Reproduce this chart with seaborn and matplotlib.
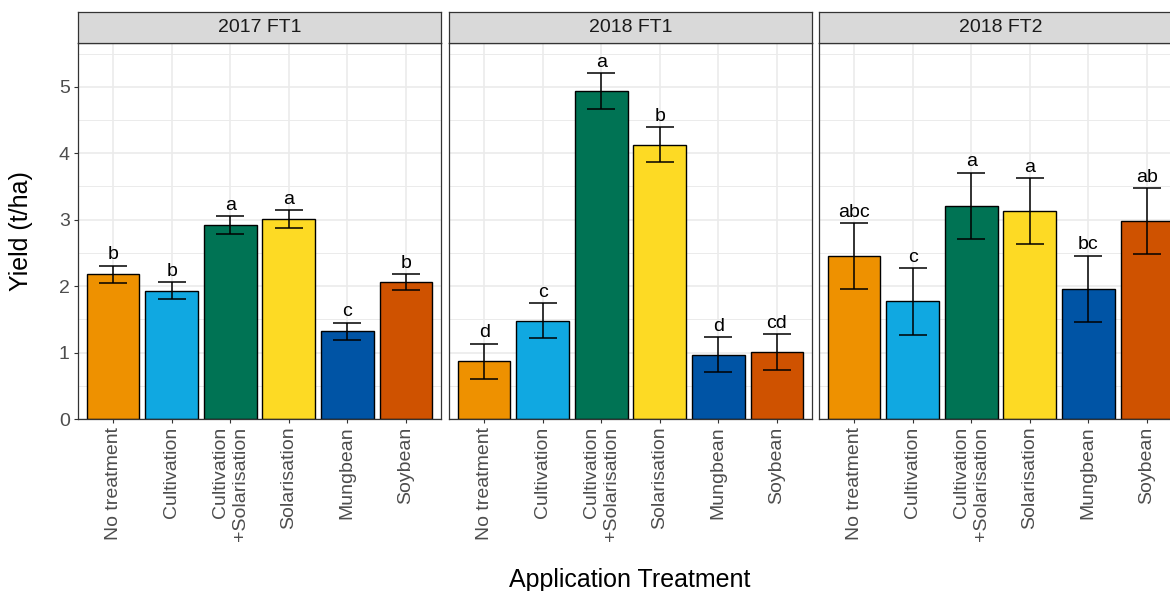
import matplotlib
matplotlib.use("Agg")
import matplotlib.pyplot as plt
from matplotlib.ticker import MultipleLocator
import numpy as np
import pandas as pd
import seaborn as sns

# ---- data -------------------------------------------------------------
treatments = ["No treatment", "Cultivation", "Cultivation\n+Solarisation",
              "Solarisation", "Mungbean", "Soybean"]
trials = ["2017 FT1", "2018 FT1", "2018 FT2"]

yield_2017_ft1 = [2.18, 1.93, 2.92, 3.01, 1.32, 2.06]
se_2017_ft1 = [0.13, 0.13, 0.13, 0.13, 0.13, 0.125]
letters_2017_ft1 = ["b", "b", "a", "a", "c", "b"]

yield_2018_ft1 = [0.87, 1.48, 4.94, 4.13, 0.97, 1.01]
se_2018_ft1 = [0.265, 0.265, 0.27, 0.265, 0.26, 0.265]
letters_2018_ft1 = ["d", "c", "a", "b", "d", "cd"]

yield_2018_ft2 = [2.45, 1.77, 3.21, 3.13, 1.96, 2.98]
se_2018_ft2 = [0.50, 0.50, 0.50, 0.50, 0.50, 0.50]
letters_2018_ft2 = ["abc", "c", "a", "a", "bc", "ab"]

bar_colors = ["#EE9100", "#10A8E1", "#007354", "#FDDA24", "#0054A5", "#CF5200"]

frames = []
for trial, y, se, lab in [
    ("2017 FT1", yield_2017_ft1, se_2017_ft1, letters_2017_ft1),
    ("2018 FT1", yield_2018_ft1, se_2018_ft1, letters_2018_ft1),
    ("2018 FT2", yield_2018_ft2, se_2018_ft2, letters_2018_ft2),
]:
    frames.append(pd.DataFrame({"trial": trial, "treatment": treatments,
                                "yield": y, "se": se, "letter": lab}))
df = pd.concat(frames, ignore_index=True)

# ---- style ------------------------------------------------------------
sns.set_style("white")
plt.rcParams["font.family"] = ["Liberation Sans", "DejaVu Sans"]

W, H = 1170, 591
fig = plt.figure(figsize=(W / 100, H / 100), dpi=100)

panel_lefts = [78, 449, 819]
panel_w = 363
panel_top, panel_bottom = 43, 419
strip_top = 12

def fx(px):
    return px / W

def fy(py):
    return 1 - py / H

palette = dict(zip(treatments, bar_colors))
border = "#333333"

for i, trial in enumerate(trials):
    sub = df[df["trial"] == trial]
    ax = fig.add_axes([fx(panel_lefts[i]), fy(panel_bottom),
                       fx(panel_w), (panel_bottom - panel_top) / H])
    sns.barplot(data=sub, x="treatment", y="yield", hue="treatment",
                order=treatments, hue_order=treatments, palette=palette,
                width=0.9, edgecolor="black", linewidth=1.0,
                errorbar=None, legend=False, saturation=1, ax=ax)
    xs = np.arange(len(treatments))
    ax.errorbar(xs, sub["yield"].values, yerr=sub["se"].values, fmt="none",
                ecolor="black", elinewidth=1.1, capsize=10.4, capthick=1.1,
                zorder=4)
    for x, m, s, lab in zip(xs, sub["yield"], sub["se"], sub["letter"]):
        ax.annotate(lab, (x, m + s), xytext=(0, 4.5), textcoords="offset points",
                    ha="center", va="baseline", fontsize=14, color="black",
                    zorder=5)

    ax.set_xlim(-0.6, 5.6)
    ax.set_ylim(0, 5.66)
    ax.set_xlabel("")
    ax.set_ylabel("")
    ax.set_axisbelow(True)
    ax.yaxis.set_major_locator(MultipleLocator(1))
    ax.yaxis.set_minor_locator(MultipleLocator(0.5))
    ax.grid(True, which="major", axis="both", color="#EBEBEB", linewidth=1.2)
    ax.grid(True, which="minor", axis="y", color="#EBEBEB", linewidth=0.7)
    for sp in ax.spines.values():
        sp.set_visible(True)
        sp.set_color(border)
        sp.set_linewidth(0.9)

    ax.set_xticks(xs)
    ax.set_xticklabels(treatments, rotation=90, ha="center", va="top",
                       multialignment="right", fontsize=14, color="#4D4D4D")
    ax.tick_params(axis="x", which="major", length=3, width=0.8,
                   color=border, pad=2.5, bottom=True)
    ax.tick_params(axis="y", which="minor", length=0)
    if i == 0:
        ax.tick_params(axis="y", which="major", length=3, width=0.8,
                       color=border, pad=3, labelsize=14, labelcolor="#4D4D4D",
                       left=True)
    else:
        ax.tick_params(axis="y", which="major", length=0, labelleft=False)

    # facet strip
    sax = fig.add_axes([fx(panel_lefts[i]), fy(panel_top),
                        fx(panel_w), (panel_top - strip_top) / H])
    sax.set_facecolor("#D9D9D9")
    sax.set_xticks([])
    sax.set_yticks([])
    for sp in sax.spines.values():
        sp.set_visible(True)
        sp.set_color(border)
        sp.set_linewidth(0.9)
    sax.text(0.5, 0.5, trial, transform=sax.transAxes, ha="center",
             va="center", fontsize=14, color="#1A1A1A")

fig.text(fx(21), fy((panel_top + panel_bottom) / 2), "Yield (t/ha)",
         rotation=90, ha="center", va="center", fontsize=18, color="black")
fig.text(fx((78 + 819 + panel_w) / 2), fy(587), "Application Treatment",
         ha="center", va="baseline", fontsize=18, color="black")

fig.savefig("out.png", dpi=100)
